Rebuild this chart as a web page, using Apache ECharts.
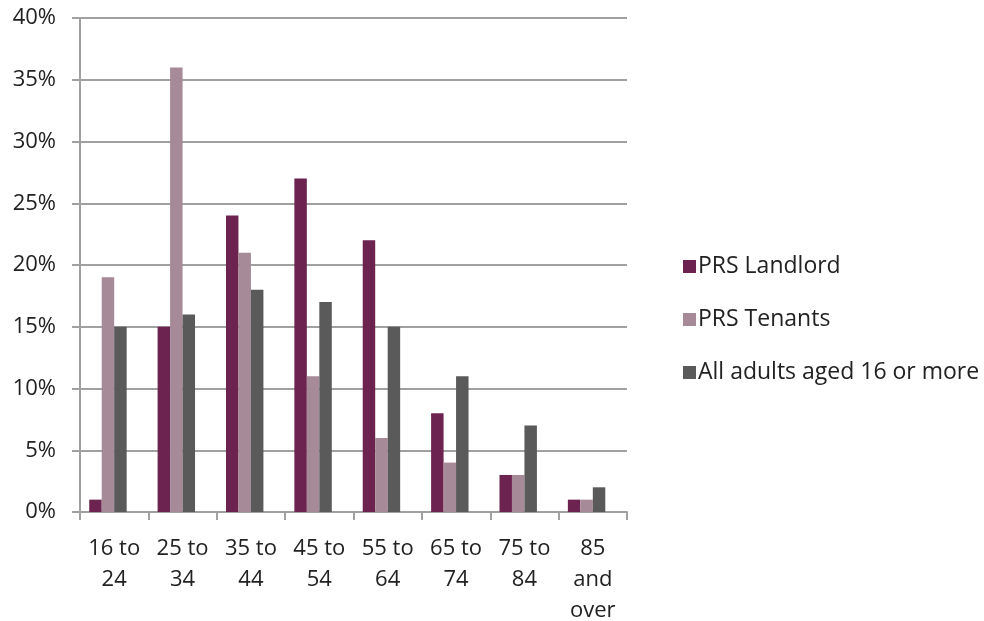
<!DOCTYPE html>
<html><head><meta charset="utf-8">
<script src="https://cdn.jsdelivr.net/npm/echarts@6/dist/echarts.min.js"></script>
<style>html,body{margin:0;padding:0;background:#fff}#c{width:984px;height:621px}</style>
</head><body><div id="c"></div>
<script>
const categories = ['16 to\n24','25 to\n34','35 to\n44','45 to\n54','55 to\n64','65 to\n74','75 to\n84','85\nand\nover'];
const landlord = [1,15,24,27,22,8,3,1];
const tenants = [19,36,21,11,6,4,3,1];
const allAdults = [15,16,18,17,15,11,7,2];
const emptySlot = [];
const yTicks = [0,5,10,15,20,25,30,35,40];

const font = '"Open Sans", "Noto Sans", sans-serif';
const gray = '#a0a0a0';
const chart = echarts.init(document.getElementById('c'), null, {renderer:'canvas'});
chart.setOption({
  animation:false,
  textStyle:{fontFamily:font},
  grid:{left:80,right:357,top:18,bottom:109,containLabel:false,outerBoundsMode:'none'},
  legend:{
    orient:'vertical', left:678, top:250, itemWidth:13, itemHeight:13, itemGap:30,
    icon:'rect',
    textStyle:{fontFamily:font,fontSize:23,color:'#222',padding:[0,0,0,-3]},
    data:['PRS Landlord','PRS Tenants','All adults aged 16 or more']
  },
  xAxis:{
    type:'category', data:categories,
    axisLine:{lineStyle:{color:gray,width:2}},
    axisTick:{show:true,length:8,lineStyle:{color:gray,width:2},alignWithLabel:false},
    axisLabel:{fontFamily:font,fontSize:22,color:'#222',margin:21,lineHeight:31,interval:0}
  },
  yAxis:{
    type:'value', min:yTicks[0], max:yTicks[yTicks.length-1], interval:5,
    axisLine:{show:true,lineStyle:{color:gray,width:2}},
    axisTick:{show:true,length:8,lineStyle:{color:gray,width:2}},
    splitLine:{lineStyle:{color:gray,width:2}},
    axisLabel:{fontFamily:font,fontSize:22,color:'#222',margin:24,formatter:v=>v+'%'}
  },
  series:[
    {name:'PRS Landlord',type:'bar',data:landlord,itemStyle:{color:'#6d2350'},barGap:'0%',barCategoryGap:'27%'},
    {name:'PRS Tenants',type:'bar',data:tenants,itemStyle:{color:'#a68a97'},barGap:'0%',barCategoryGap:'27%'},
    {name:'All adults aged 16 or more',type:'bar',data:allAdults,itemStyle:{color:'#5a5a5a'},barGap:'0%',barCategoryGap:'27%'},
    {name:'_spacer',type:'bar',data:emptySlot,barGap:'0%',barCategoryGap:'27%'}
  ]
});
</script></body></html>
